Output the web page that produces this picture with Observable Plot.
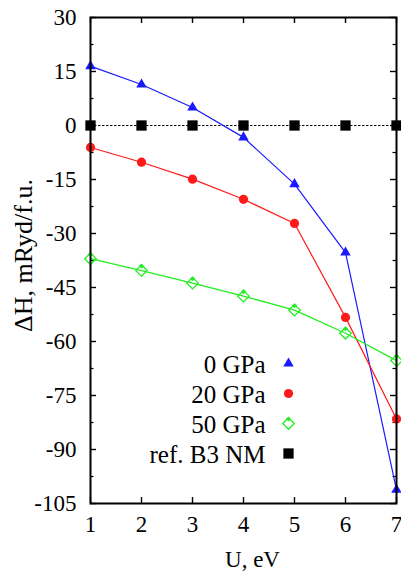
<!DOCTYPE html>
<html>
<head>
<meta charset="utf-8">
<script src="https://cdn.jsdelivr.net/npm/d3@7"></script>
<script src="https://cdn.jsdelivr.net/npm/@observablehq/plot@0.6"></script>
<style>
  body { margin: 0; background: #fff; }
</style>
</head>
<body>
<div id="chart"></div>
<script>
// Hubbard U (eV) and enthalpy difference ΔH (mRyd/f.u.) for each pressure
const U = [1, 2, 3, 4, 5, 6, 7];
const dH0GPa = [16.5, 11.4, 5.0, -3.3, -16.3, -35.3, -101.2];
const dH20GPa = [-6.1, -10.2, -14.9, -20.5, -27.2, -53.3, -81.5];
const dH50GPa = [-37.0, -40.3, -43.8, -47.4, -51.3, -57.7, -65.3];
const dHrefB3 = [0, 0, 0, 0, 0, 0, 0];

const seriesNames = ["0 GPa", "20 GPa", "50 GPa", "ref. B3 NM"];
const yTicks = [30, 15, 0, -15, -30, -45, -60, -75, -90, -105];
const yMinorTicks = [22.5, 7.5, -7.5, -22.5, -37.5, -52.5, -67.5, -82.5, -97.5];
const xTicks = [1, 2, 3, 4, 5, 6, 7];

const width = 401, height = 572;
const margin = {top: 17, right: 5, bottom: 69, left: 90};
const W = width - margin.left - margin.right;
const H = height - margin.top - margin.bottom;

const blue = "#1a1aff", red = "#ff1a1a", green = "#22ee22", black = "#000";

const rows = (ys) => U.map((u, i) => ({u, dH: ys[i]}));
const s0 = rows(dH0GPa), s20 = rows(dH20GPa), s50 = rows(dH50GPa), sRef = rows(dHrefB3);

// marker styles shared by the data points and the key
const markers = [
  [{symbol: "triangle", r: 3.9, fill: blue}],
  [{symbol: "circle", r: 4.6, fill: red}],
  [{symbol: "diamond2", r: 5.2, fill: "none", stroke: green, strokeWidth: 1.3},
   {symbol: "diamond2", r: 2.3, fill: green, dy: -4.5}],
  [{symbol: "square", r: 5.8, fill: black}]
];
const seriesData = [s0, s20, s50, sRef];

const marks = [
  // inward ticks on all four sides
  Plot.tickY(yTicks, {y: d => d, insetRight: W - 6, strokeWidth: 1.4}),
  Plot.tickY(yTicks, {y: d => d, insetLeft: W - 6, strokeWidth: 1.4}),
  Plot.tickY(yMinorTicks, {y: d => d, insetRight: W - 3.5, strokeWidth: 1.2}),
  Plot.tickY(yMinorTicks, {y: d => d, insetLeft: W - 3.5, strokeWidth: 1.2}),
  Plot.tickX(xTicks, {x: d => d, insetTop: H - 6, strokeWidth: 1.4}),
  Plot.tickX(xTicks, {x: d => d, insetBottom: H - 6, strokeWidth: 1.4}),
  Plot.axisY(yTicks, {anchor: "left", tickSize: 0, tickPadding: 14, tickFormat: d => String(d), label: null, fontSize: 23}),
  Plot.axisX(xTicks, {anchor: "bottom", tickSize: 0, tickPadding: 12, tickFormat: d => String(d), label: null, fontSize: 23}),
  Plot.text(["U, eV"], {frameAnchor: "bottom", textAnchor: "middle", lineAnchor: "middle", dx: 9, dy: 56, fontSize: 23}),
  Plot.text(["ΔH, mRyd/f.u."], {frameAnchor: "left", textAnchor: "middle", lineAnchor: "middle", rotate: -90, dx: -67, dy: -5, fontSize: 26}),
  // reference structure: dotted zero line
  Plot.line(sRef, {x: "u", y: "dH", stroke: black, strokeWidth: 1.2, strokeDasharray: "1.5,2.5"}),
  Plot.line(s0, {x: "u", y: "dH", stroke: blue, strokeWidth: 1.2}),
  Plot.line(s20, {x: "u", y: "dH", stroke: red, strokeWidth: 1.2}),
  Plot.line(s50, {x: "u", y: "dH", stroke: green, strokeWidth: 1.3}),
];

seriesData.forEach((data, i) => {
  for (const m of markers[i]) marks.push(Plot.dot(data, {x: "u", y: "dH", ...m}));
});

// key inside the plot area
seriesNames.forEach((name, i) => {
  const dy = 347 + i * 30;
  marks.push(Plot.text([name], {frameAnchor: "top-left", text: d => d, textAnchor: "end", lineAnchor: "middle", dx: 175, dy, fontSize: 25}));
  for (const m of markers[i]) {
    marks.push(Plot.dot([name], {frameAnchor: "top-left", ...m, dx: 198, dy: dy - 1 + (m.dy || 0)}));
  }
});

marks.push(Plot.frame({stroke: black, strokeWidth: 2}));

const chart = Plot.plot({
  width, height,
  marginTop: margin.top, marginRight: margin.right, marginBottom: margin.bottom, marginLeft: margin.left,
  x: {domain: [1, 7], axis: null},
  y: {domain: [-105, 30], axis: null},
  style: {fontFamily: "'Liberation Serif', 'Times New Roman', serif", fontSize: "23px", color: "#000", background: "#fff", overflow: "visible"},
  marks
});
document.getElementById("chart").appendChild(chart);
</script>
</body>
</html>
